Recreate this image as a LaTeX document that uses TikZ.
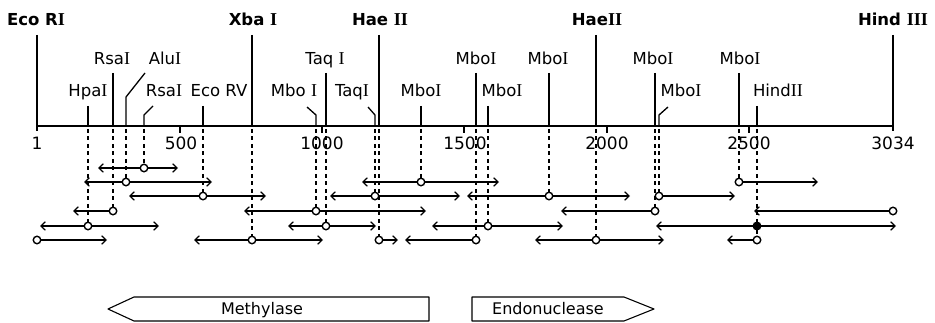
\documentclass[tikz,border=0pt]{standalone}
\usepackage{fontspec}
\setmainfont{DejaVu Sans}
\newfontfamily\romI{Liberation Serif}[Scale=1.1]
\usetikzlibrary{arrows.meta}
\newcommand\Rn[1]{{\romI #1}}
\begin{document}
\begin{tikzpicture}[x=1pt,y=-1pt,
  >={Straight Barb[length=4.5pt,width=8.5pt]},
  every node/.style={inner sep=0pt},
  lab/.style={font=\fontsize{16.5}{18}\selectfont, anchor=base},
  blab/.style={font=\fontsize{16.5}{18}\selectfont\bfseries, anchor=base},
  num/.style={font=\fontsize{17}{20}\selectfont, anchor=base},
  boxtext/.style={font=\fontsize{16}{18}\selectfont, anchor=base},
  axisline/.style={line width=2.8pt},
  cut/.style={line width=1.3pt},
  tick/.style={line width=1.2pt},
  dashline/.style={line width=1.2pt, dash pattern=on 4pt off 3.5pt},
  frag/.style={line width=1.2pt},
  site/.style={circle, draw, line width=1.4pt, fill=white, minimum size=7.5pt},
  hit/.style={site, fill=black},
  genebox/.style={line width=1.1pt, line join=round}
]
\useasboundingbox (0,0) rectangle (935,323);

% ---- map axis ----
\coordinate (a0) at (37,126);
\coordinate (a1) at (893,126);
\draw[axisline] (a0) -- (a1);
\draw[tick] (a0) -- ++(0,5);
\draw[tick] (a1) -- ++(0,5);
\foreach \x/\t in {180/500, 322/1000, 464/1500, 607/2000, 749/2500}{
  \coordinate (k\t) at (\x,126);
  \draw[tick] (k\t) -- ++(0,7);
}
\node[num] (n1) at (37,150) {1};
\node[num] (n500) at (181,150) {500};
\node[num] (n1000) at (322,150) {1000};
\node[num] (n1500) at (465,150) {1500};
\node[num] (n2000) at (607,150) {2000};
\node[num] (n2500) at (749,150) {2500};
\node[num] (n3034) at (893,150) {3034};

% ---- restriction sites: top level ----
\newcommand\cutline[3]{\coordinate (#1t) at (#2,#3); \coordinate (#1) at (#2,126); \draw[cut] (#1t) -- (#1);}
\cutline{sEco}{37}{35}
\cutline{sXba}{252}{35}
\cutline{sHaeA}{379}{35}
\cutline{sHaeB}{596}{35}
\cutline{sHind}{893}{35}
\node[blab] (lEco) at (36,26) {Eco R\Rn{I}};
\node[blab] (lXba) at (253,26) {Xba \Rn{I}};
\node[blab] (lHaeA) at (380,26) {Hae \Rn{II}};
\node[blab] (lHaeB) at (597,26) {Hae\Rn{II}};
\node[blab] (lHind) at (893,26) {Hind \Rn{III}};

% ---- middle level ----
\cutline{sRsaA}{113}{73}
\cutline{sTaqA}{326}{73}
\cutline{sMboD}{476}{73}
\cutline{sMboF}{549}{73}
\cutline{sMboG}{655}{73}
\cutline{sMboI}{739}{73}
\coordinate (sAlut) at (145,73); \coordinate (sAlum) at (126,97); \coordinate (sAlu) at (126,126);
\draw[cut] (sAlut) -- (sAlum) -- (sAlu);
\node[lab] (lRsaA) at (112,65) {Rsa\Rn{I}};
\node[lab] (lAlu) at (165,65) {Alu\Rn{I}};
\node[lab] (lTaqA) at (325,65) {Taq \Rn{I}};
\node[lab] (lMboD) at (476,65) {Mbo\Rn{I}};
\node[lab] (lMboF) at (548,65) {Mbo\Rn{I}};
\node[lab] (lMboG) at (653,65) {Mbo\Rn{I}};
\node[lab] (lMboI) at (740,65) {Mbo\Rn{I}};

% ---- lower level ----
\cutline{sHpa}{88}{106}
\cutline{sEcoV}{203}{106}
\cutline{sMboB}{421}{106}
\cutline{sMboE}{488}{106}
\cutline{sHincII}{757}{106}
\coordinate (sRsaBt) at (153,106); \coordinate (sRsaBm) at (144,115); \coordinate (sRsaB) at (144,126);
\draw[cut] (sRsaBt) -- (sRsaBm) -- (sRsaB);
\coordinate (sMboAt) at (307,107); \coordinate (sMboAm) at (316,115); \coordinate (sMboA) at (316,126);
\draw[cut] (sMboAt) -- (sMboAm) -- (sMboA);
\coordinate (sTaqBt) at (368,107); \coordinate (sTaqBm) at (375,115); \coordinate (sTaqB) at (375,126);
\draw[cut] (sTaqBt) -- (sTaqBm) -- (sTaqB);
\coordinate (sMboHt) at (668,107); \coordinate (sMboHm) at (659,115); \coordinate (sMboH) at (659,126);
\draw[cut] (sMboHt) -- (sMboHm) -- (sMboH);
\node[lab] (lHpa) at (88,97) {Hpa\Rn{I}};
\node[lab] (lRsaB) at (164,97) {Rsa\Rn{I}};
\node[lab] (lEcoV) at (219,97) {Eco RV};
\node[lab] (lMboA) at (294,97) {Mbo \Rn{I}};
\node[lab] (lTaqB) at (352,97) {Taq\Rn{I}};
\node[lab] (lMboB) at (421,97) {Mbo\Rn{I}};
\node[lab] (lMboE) at (502,97) {Mbo\Rn{I}};
\node[lab] (lMboH) at (681,97) {Mbo\Rn{I}};
\node[lab] (lHincII) at (778,97) {Hind\Rn{II}};

% ---- fragment origins ----
\node[site] (r1a) at (144,168) {};
\node[site] (r2a) at (126,182) {};
\node[site] (r2b) at (421,182) {};
\node[site] (r2c) at (739,182) {};
\node[site] (r3a) at (203,196) {};
\node[site] (r3b) at (375,196) {};
\node[site] (r3c) at (549,196) {};
\node[site] (r3d) at (659,196) {};
\node[site] (r4a) at (113,211) {};
\node[site] (r4b) at (316,211) {};
\node[site] (r4c) at (655,211) {};
\node[site] (r4d) at (893,211) {};
\node[site] (r5a) at (88,226) {};
\node[site] (r5b) at (326,226) {};
\node[site] (r5c) at (488,226) {};
\node[hit]  (r5d) at (757,226) {};
\node[site] (r6a) at (37,240) {};
\node[site] (r6b) at (252,240) {};
\node[site] (r6c) at (379,240) {};
\node[site] (r6d) at (476,240) {};
\node[site] (r6e) at (596,240) {};
\node[site] (r6f) at (757,240) {};

% ---- dashed projections ----
\foreach \s/\r in {sHpa/r5a, sRsaA/r4a, sAlu/r2a, sRsaB/r1a, sEcoV/r3a, sXba/r6b,
  sMboA/r4b, sTaqA/r5b, sTaqB/r3b, sHaeA/r6c, sMboB/r2b, sMboD/r6d, sMboE/r5c,
  sMboF/r3c, sHaeB/r6e, sMboG/r4c, sMboH/r3d, sMboI/r2c, sHincII/r5d}{
  \draw[dashline] ([yshift=-3pt]\s) -- (\r);
}
\draw[dashline] (r5d) -- (r6f);

% ---- fragments ----
\newcommand\toleft[3]{\coordinate (#1L) at (#2,#3); \draw[frag,<-] (#1L) -- (#1);}
\newcommand\toright[3]{\coordinate (#1R) at (#2,#3); \draw[frag,->] (#1) -- (#1R);}
\toleft{r1a}{98}{168} \toright{r1a}{178}{168}
\toleft{r2a}{84}{182} \toright{r2a}{212}{182}
\toleft{r2b}{362}{182} \toright{r2b}{499}{182}
\toright{r2c}{818}{182}
\toleft{r3a}{129}{196} \toright{r3a}{266}{196}
\toleft{r3b}{330}{196} \toright{r3b}{460}{196}
\toleft{r3c}{467}{196} \toright{r3c}{630}{196}
\toright{r3d}{735}{196}
\toleft{r4a}{73}{211}
\toleft{r4b}{244}{211} \toright{r4b}{426}{211}
\toleft{r4c}{561}{211}
\toleft{r4d}{754}{211}
\toleft{r5a}{40}{226} \toright{r5a}{159}{226}
\toleft{r5b}{288}{226} \toright{r5b}{376}{226}
\toleft{r5c}{432}{226} \toright{r5c}{563}{226}
\toleft{r5d}{656}{226} \toright{r5d}{896}{226}
\toright{r6a}{107}{240}
\toleft{r6b}{194}{240} \toright{r6b}{323}{240}
\toright{r6c}{398}{240}
\toleft{r6d}{405}{240}
\toleft{r6e}{535}{240} \toright{r6e}{664}{240}
\toleft{r6f}{727}{240}

% ---- genes ----
\draw[genebox] (108,309) -- (134,297) -- (429,297) -- (429,321) -- (134,321) -- cycle;
\node[boxtext] (meth) at (262,315) {Methylase};
\draw[genebox] (472,297) -- (624,297) -- (654,309) -- (624,321) -- (472,321) -- cycle;
\node[boxtext] (endo) at (548,315) {Endonuclease};
\end{tikzpicture}
\end{document}
